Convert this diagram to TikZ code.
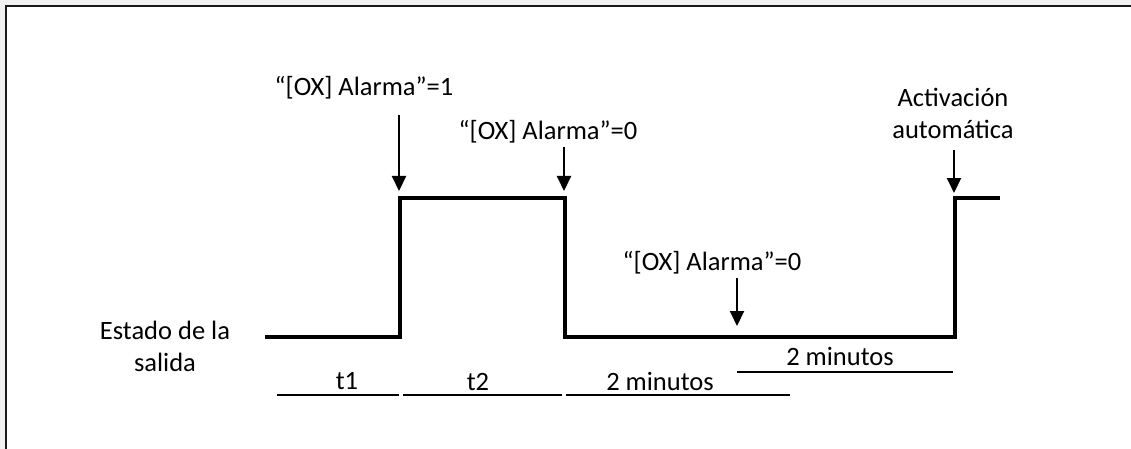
\documentclass[tikz,border=0pt]{standalone}
\usepackage{fontspec}
\setmainfont{Carlito}
\usetikzlibrary{arrows.meta}
\definecolor{panelgray}{HTML}{F0F0F0}
\tikzset{
  signal/.style={line width=4pt, line join=miter},
  marker/.style={line width=2pt, -{Triangle[width=14pt,length=15pt]}},
  span/.style={line width=1.5pt},
  lbl/.style={font=\fontsize{26.5}{32}\selectfont, inner sep=0pt, align=center}
}
\begin{document}
\begin{tikzpicture}[x=1pt,y=-1pt]
  \useasboundingbox (0,0) rectangle (1131,449);
  % window background and frame
  \fill[panelgray] (0,0) rectangle (1131,449);
  \fill[white] (6,6) rectangle (1131,449);
  \draw[line width=2.5pt, black!90] (6,449) -- (6,6) -- (1131,6);

  % output signal corners
  \coordinate (s0) at (265,337);
  \coordinate (s1) at (400,337);
  \coordinate (s2) at (400,198);
  \coordinate (s3) at (565,198);
  \coordinate (s4) at (565,337);
  \coordinate (s5) at (955,337);
  \coordinate (s6) at (955,198);
  \coordinate (s7) at (1000,198);
  \draw[signal] (s0) -- (s1) -- (s2) -- (s3) -- (s4) -- (s5) -- (s6) -- (s7);

  % event labels
  \node[lbl] (ev1) at (364,88) {“[OX] Alarma”=1};
  \node[lbl] (ev2) at (548,132) {“[OX] Alarma”=0};
  \node[lbl] (ev3) at (712,263) {“[OX] Alarma”=0};
  \node[lbl] (ev4) at (953,113) {Activación\\automática};
  \node[lbl] (out) at (165,346) {Estado de la\\salida};

  % event markers
  \coordinate (a1s) at (399,115);  \coordinate (a1e) at (399,191);
  \coordinate (a2s) at (564,147);  \coordinate (a2e) at (564,191);
  \coordinate (a3s) at (737,278);  \coordinate (a3e) at (737,326);
  \coordinate (a4s) at (954,150);  \coordinate (a4e) at (954,193);
  \draw[marker] (a1s) -- (a1e);
  \draw[marker] (a2s) -- (a2e);
  \draw[marker] (a3s) -- (a3e);
  \draw[marker] (a4s) -- (a4e);

  % time spans
  \coordinate (t1a) at (277,395);  \coordinate (t1b) at (399,395);
  \coordinate (t2a) at (403,395);  \coordinate (t2b) at (562,395);
  \coordinate (t3a) at (566,395);  \coordinate (t3b) at (790,395);
  \coordinate (t4a) at (737,372);  \coordinate (t4b) at (953,372);
  \draw[span] (t1a) -- (t1b);
  \draw[span] (t2a) -- (t2b);
  \draw[span] (t3a) -- (t3b);
  \draw[span] (t4a) -- (t4b);
  \node[lbl] (d1) at (347,381) {t1};
  \node[lbl] (d2) at (478,382) {t2};
  \node[lbl] (d3) at (660,381) {2 minutos};
  \node[lbl] (d4) at (840,356) {2 minutos};
\end{tikzpicture}
\end{document}
